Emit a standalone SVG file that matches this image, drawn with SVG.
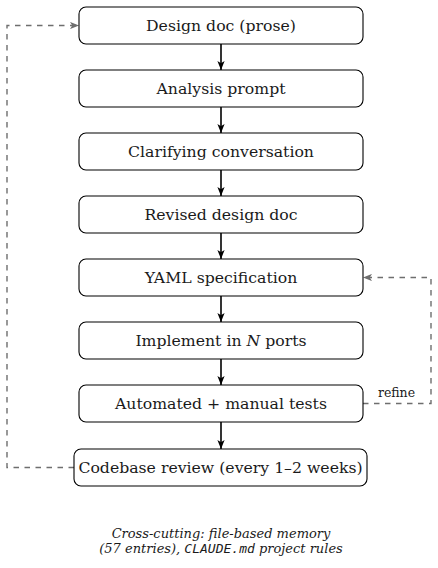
<svg xmlns="http://www.w3.org/2000/svg" width="438" height="568" viewBox="0 0 438 568">
<style>
.box{fill:#fff;stroke:#000;stroke-width:1.1}
.lbl{font-family:"DejaVu Serif",serif;font-size:15.7px;fill:#1a1a1a;text-anchor:middle}
.flow{stroke:#000;stroke-width:1.6;fill:none}
.dash{stroke:#6e6e6e;stroke-width:1.4;fill:none;stroke-dasharray:5.5 5.5}
.cap{font-family:"DejaVu Serif",serif;font-style:italic;font-size:13px;fill:#1a1a1a;text-anchor:middle}
.mono{font-family:"DejaVu Sans Mono",monospace;font-style:italic}
.small{font-family:"DejaVu Serif",serif;font-size:12.5px;fill:#1a1a1a;text-anchor:middle}
</style>
<defs>
<marker id="ab" viewBox="0 0 10 8" refX="10" refY="4" markerWidth="9" markerHeight="7.5" markerUnits="userSpaceOnUse" orient="auto"><path d="M0,0 L10,4 L0,8 L2.5,4 z" fill="#000"/></marker>
<marker id="ag" viewBox="0 0 10 8" refX="10" refY="4" markerWidth="9" markerHeight="7.5" markerUnits="userSpaceOnUse" orient="auto"><path d="M0,0 L10,4 L0,8 L2.5,4 z" fill="#6e6e6e"/></marker>
</defs>
<g id="connectors">
<path class="flow" d="M221,44 V70" marker-end="url(#ab)"/>
<path class="flow" d="M221,107 V133" marker-end="url(#ab)"/>
<path class="flow" d="M221,170 V196" marker-end="url(#ab)"/>
<path class="flow" d="M221,233 V259" marker-end="url(#ab)"/>
<path class="flow" d="M221,296 V322" marker-end="url(#ab)"/>
<path class="flow" d="M221,359 V385" marker-end="url(#ab)"/>
<path class="flow" d="M221,422 V449" marker-end="url(#ab)"/>
<path class="dash" d="M74,467.5 H7 V25.5 H79" marker-end="url(#ag)"/>
<path class="dash" d="M363,403.5 H431 V277.5 H363" marker-end="url(#ag)"/>
<text class="small" x="396.5" y="397">refine</text>
</g>
<g id="n1"><rect class="box" x="79" y="7" width="284" height="37" rx="7"/><text class="lbl" x="221" y="31">Design doc (prose)</text></g>
<g id="n2"><rect class="box" x="79" y="70" width="284" height="37" rx="7"/><text class="lbl" x="221" y="94">Analysis prompt</text></g>
<g id="n3"><rect class="box" x="79" y="133" width="284" height="37" rx="7"/><text class="lbl" x="221" y="157">Clarifying conversation</text></g>
<g id="n4"><rect class="box" x="79" y="196" width="284" height="37" rx="7"/><text class="lbl" x="221" y="220">Revised design doc</text></g>
<g id="n5"><rect class="box" x="79" y="259" width="284" height="37" rx="7"/><text class="lbl" x="221" y="283">YAML specification</text></g>
<g id="n6"><rect class="box" x="79" y="322" width="284" height="37" rx="7"/><text class="lbl" x="221" y="346">Implement in <tspan font-style="italic">N</tspan> ports</text></g>
<g id="n7"><rect class="box" x="79" y="385" width="284" height="37" rx="7"/><text class="lbl" x="221" y="409">Automated + manual tests</text></g>
<g id="n8"><rect class="box" x="74" y="449" width="293" height="37" rx="7"/><text class="lbl" x="220.5" y="473">Codebase review (every 1–2 weeks)</text></g>
<g id="caption">
<text class="cap" x="221" y="538">Cross-cutting: file-based memory</text>
<text class="cap" x="221" y="553">(57 entries), <tspan class="mono">CLAUDE.md</tspan> project rules</text>
</g>
</svg>
